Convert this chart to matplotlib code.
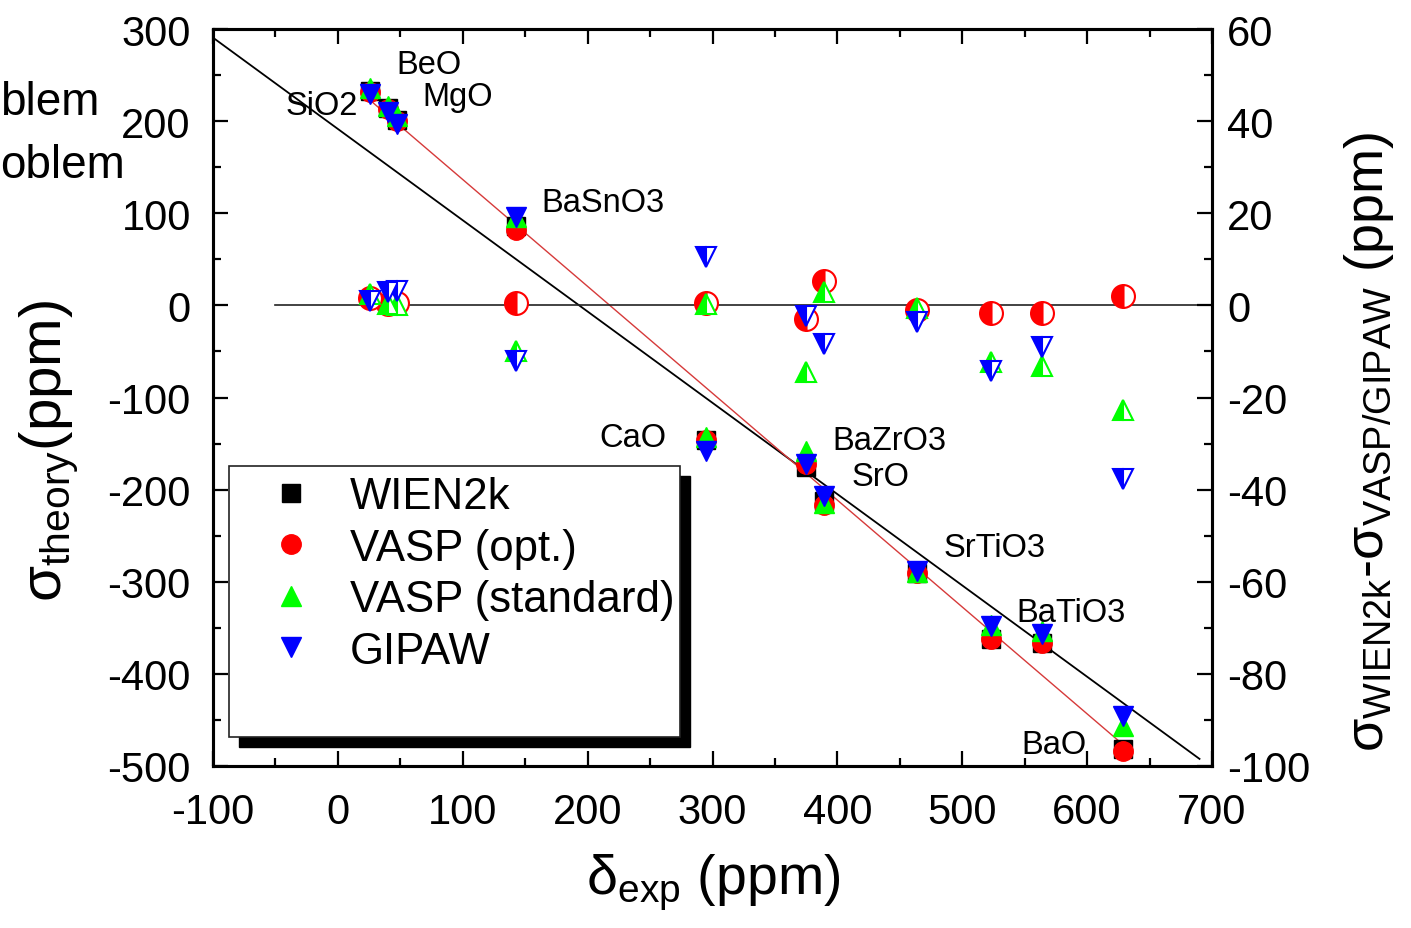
import matplotlib
matplotlib.use('Agg')
import matplotlib.pyplot as plt
from matplotlib.patches import Rectangle
from matplotlib.ticker import MultipleLocator
import numpy as np

plt.rcParams['font.family'] = ['Liberation Sans', 'DejaVu Sans']
plt.rcParams['axes.unicode_minus'] = False
plt.rcParams['mathtext.fontset'] = 'custom'
plt.rcParams['mathtext.rm'] = 'Liberation Sans'
plt.rcParams['mathtext.it'] = 'Liberation Sans:italic'
plt.rcParams['mathtext.bf'] = 'Liberation Sans:bold'

# ---------------- data ----------------
compounds = ['SiO2', 'BeO', 'MgO', 'BaSnO3', 'CaO', 'BaZrO3', 'SrO',
             'SrTiO3', 'BaTiO3 (a)', 'BaTiO3', 'BaO']
delta_exp = [26, 40, 47, 143, 295, 375, 389, 464, 523, 564, 629]

# sigma_theory (ppm), left axis
sigma_wien2k = [233, 214, 201, 86, -146, -175, -212, -291, -362, -366, -482]
sigma_vasp_opt = [232, 213, 200, 82, -146, -172, -217, -290, -362, -367, -484]
sigma_vasp_std = [236, 216, 206, 96, -143, -158, -215, -289, -347, -353, -457]
sigma_gipaw = [229, 210, 197, 96, -158, -172, -207, -288, -348, -357, -446]

# sigma_WIEN2k - sigma_method (ppm), right axis
diff_vasp_opt = [1.5, 0.3, 0.5, 0.5, 0.5, -3.0, 5.2, -0.9, -1.7, -1.7, 2.1]
diff_vasp_std = [2.5, 0.2, 0.0, -10.0, 0.2, -14.5, 2.8, -0.5, -12.4, -13.1, -22.7]
diff_gipaw = [1.0, 2.8, 3.2, -12.0, 10.5, -2.4, -8.4, -3.6, -14.2, -9.1, -37.7]

# linear relations drawn as lines: (intercept, slope, x_start, x_end)
black_line = (191.5, -0.991, -100, 690)
red_line = (252.6, -1.16, 26, 629)
zero_line_x = [-50, 700]

# labels: text, anchor in data coordinates (left axis)
label_texts = ['BeO', 'MgO', 'SiO2', 'BaSnO3', 'CaO', 'BaZrO3', 'SrO',
               'SrTiO3', 'BaTiO3', 'BaO']
label_x = [47, 68, 16, 163, 263, 396, 411, 485, 543, 547]
label_y = [261, 227, 217, 112, -143, -147, -186, -263, -333, -477]
label_ha = ['left', 'left', 'right', 'left', 'right', 'left', 'left',
            'left', 'left', 'left']

# ---------------- figure ----------------
W, H = 1411, 929
fig = plt.figure(figsize=(W / 100, H / 100), dpi=100)
ax = fig.add_axes([213 / W, 1 - 767 / H, 999 / W, 737 / H])
ax2 = ax.twinx()

# lines
for (b, m, x0, x1), col, lw in [(black_line, 'black', 1.3), (red_line, '#d63a3a', 1.0)]:
    xs = np.array([x0, x1], dtype=float)
    ax.plot(xs, b + m * xs, color=col, lw=lw, zorder=2)

ms_main = 14
h_w, = ax.plot(delta_exp, sigma_wien2k, ls='none', marker='s', ms=ms_main - 0.5,
               mfc='black', mec='black', mew=1, zorder=3, label='WIEN2k')
h_o, = ax.plot(delta_exp, sigma_vasp_opt, ls='none', marker='o', ms=ms_main,
               mfc='#ff0000', mec='#ff0000', mew=1, zorder=4, label='VASP (opt.)')
h_s, = ax.plot(delta_exp, sigma_vasp_std, ls='none', marker='^', ms=ms_main,
               mfc='#00ff00', mec='#00ff00', mew=1, zorder=5, label='VASP (standard)')
h_g, = ax.plot(delta_exp, sigma_gipaw, ls='none', marker='v', ms=ms_main,
               mfc='#0000ff', mec='#0000ff', mew=1, zorder=6, label='GIPAW')

for t, x, y, ha in zip(label_texts, label_x, label_y, label_ha):
    ax.text(x, y, t, fontsize=23.5, ha=ha, va='center', zorder=7)

# right axis: differences (half filled markers)
ax2.plot(zero_line_x, [0, 0], color='#222222', lw=1.2, zorder=1)
ax2.plot(delta_exp, diff_vasp_opt, ls='none', marker='o', ms=16.5, fillstyle='left',
         mfc='#ff0000', mfcalt='white', mec='#ff0000', mew=1.5, zorder=3)
ax2.plot(delta_exp, diff_vasp_std, ls='none', marker='^', ms=15, fillstyle='left',
         mfc='#00ff00', mfcalt='white', mec='#00ff00', mew=1.5, zorder=4)
ax2.plot(delta_exp, diff_gipaw, ls='none', marker='v', ms=15, fillstyle='left',
         mfc='#0000ff', mfcalt='white', mec='#0000ff', mew=1.5, zorder=5)

# limits & ticks
ax.set_xlim(-100, 700)
ax.set_ylim(-500, 300)
ax2.set_ylim(-100, 60)
ax.xaxis.set_major_locator(MultipleLocator(100))
ax.xaxis.set_minor_locator(MultipleLocator(50))
ax.yaxis.set_major_locator(MultipleLocator(100))
ax.yaxis.set_minor_locator(MultipleLocator(50))
ax2.yaxis.set_major_locator(MultipleLocator(20))
ax2.yaxis.set_minor_locator(MultipleLocator(10))

for a in (ax, ax2):
    a.tick_params(which='major', direction='in', length=11, width=1.6, labelsize=30)
    a.tick_params(which='minor', direction='in', length=6, width=1.6)
    for s in a.spines.values():
        s.set_linewidth(2.2)
ax.tick_params(which='both', top=True, labeltop=False, right=False)
ax.tick_params(axis='x', which='major', pad=19)
ax.tick_params(axis='y', which='major', pad=16)
ax2.tick_params(axis='y', which='major', pad=11)

ax.set_xlabel(r'$\mathrm{\delta}_{\mathrm{exp}}$ (ppm)', fontsize=40)
ax.xaxis.set_label_coords((713 - 213) / 999, 1 - (853 - 30) / 737)
ax.set_ylabel(r'$\mathrm{\sigma}_{\mathrm{theory}}$(ppm)', fontsize=42)
ax.yaxis.set_label_coords((80 - 213) / 999, 1 - (451 - 30) / 737)
ax2.set_ylabel(r'$\mathrm{\sigma}_{\mathrm{WIEN2k}}$-$\mathrm{\sigma}_{\mathrm{VASP/GIPAW}}$ (ppm)',
               fontsize=39)
ax2.yaxis.set_label_coords((1342 - 213) / 999, 1 - (442 - 30) / 737)

# legend box with solid shadow
fx0, fy0, fw, fh = (229 - 213) / 999, 1 - (738 - 30) / 737, (680 - 229) / 999, (738 - 467) / 737
ax2.add_patch(Rectangle((fx0 + 10 / 999, fy0 - 10 / 737), fw, fh, transform=ax2.transAxes,
                        facecolor='black', edgecolor='black', zorder=8, clip_on=False))
ax2.add_patch(Rectangle((fx0, fy0), fw, fh, transform=ax2.transAxes,
                        facecolor='white', edgecolor='#222222', lw=1.2, zorder=9, clip_on=False))
leg = ax2.legend(handles=[h_w, h_o, h_s, h_g], loc='upper left',
                 bbox_to_anchor=((247 - 213) / 999, 1 - (477 - 30) / 737),
                 frameon=False, fontsize=31.5, borderpad=0, borderaxespad=0,
                 handlelength=2.0, handletextpad=0.35, labelspacing=0.24, markerscale=1.0)
leg.set_zorder(10)

# cropped slide text on the left
fig.text(0, 1 - 115 / H, 'blem', fontsize=33, ha='left', va='baseline')
fig.text(0, 1 - 178 / H, 'oblem', fontsize=33, ha='left', va='baseline')

fig.savefig('out.png', dpi=100)
